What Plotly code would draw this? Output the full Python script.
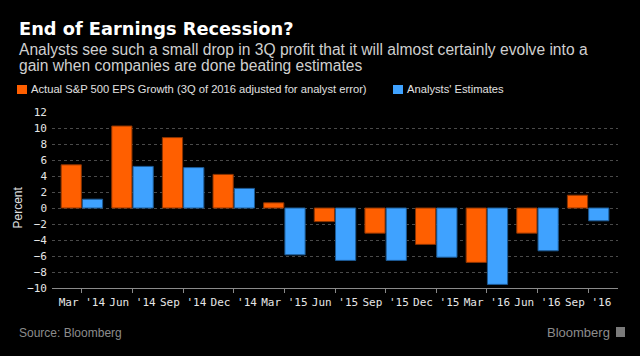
import plotly.graph_objects as go

categories = ["Mar '14", "Jun '14", "Sep '14", "Dec '14", "Mar '15", "Jun '15",
              "Sep '15", "Dec '15", "Mar '16", "Jun '16", "Sep '16"]
actual_growth = [5.4, 10.25, 8.8, 4.2, 0.65, -1.7, -3.15, -4.55, -6.8, -3.15, 1.6]
analyst_estimates = [1.1, 5.2, 5.05, 2.45, -5.85, -6.55, -6.55, -6.15, -9.55, -5.35, -1.6]
y_ticks = [-10, -8, -6, -4, -2, 0, 2, 4, 6, 8, 10, 12]

series_names = ["Actual S&P 500 EPS Growth (3Q of 2016 adjusted for analyst error)",
                "Analysts' Estimates"]
ORANGE = "#FF5F00"
BLUE = "#3FA2FF"

W, H = 640, 356
L, R, T, B = 52, 22, 112, 68
PW, PH = W - L - R, H - T - B


def px_x(x):
    return (x - L) / PW


def px_y(y):
    return (H - B - y) / PH


fig = go.Figure()
fig.add_trace(go.Bar(x=categories, y=actual_growth, name=series_names[0],
                     marker=dict(color=ORANGE, line=dict(color="#8a3300", width=1)),
                     showlegend=False))
fig.add_trace(go.Bar(x=categories, y=analyst_estimates, name=series_names[1],
                     marker=dict(color=BLUE, line=dict(color="#1d5a94", width=1)),
                     showlegend=False))

sans = "Liberation Sans, Arial, sans-serif"
mono = "DejaVu Sans Mono, monospace"

annotations = [
    dict(text="<b>End of Earnings Recession?</b>", x=px_x(17), y=px_y(28),
         font=dict(family="DejaVu Sans, sans-serif", size=17.8, color="#ffffff")),
    dict(text="Analysts see such a small drop in 3Q profit that it will almost certainly evolve into a",
         x=px_x(17), y=px_y(49), font=dict(family=sans, size=15.6, color="#cfcfcf")),
    dict(text="gain when companies are done beating estimates",
         x=px_x(17), y=px_y(65.5), font=dict(family=sans, size=15.6, color="#cfcfcf")),
    dict(text=series_names[0], x=px_x(29), y=px_y(89.5),
         font=dict(family=sans, size=11.2, color="#e0e0e0")),
    dict(text=series_names[1], x=px_x(405), y=px_y(89.5),
         font=dict(family=sans, size=11.2, color="#e0e0e0")),
    dict(text="Percent", x=px_x(17.5), y=px_y(208), textangle=-90, xanchor="center",
         font=dict(family=sans, size=12, color="#e0e0e0")),
    dict(text="Source: Bloomberg", x=px_x(17), y=px_y(333),
         font=dict(family=sans, size=12, color="#8c8c8c")),
    dict(text="Bloomberg", x=px_x(612), y=px_y(332), xanchor="right",
         font=dict(family=sans, size=13, color="#8c8c8c")),
]
for a in annotations:
    a.setdefault("xanchor", "left")
    a.update(xref="paper", yref="paper", yanchor="middle", showarrow=False)

shapes = [
    dict(type="rect", xref="paper", yref="paper", x0=px_x(17), x1=px_x(27),
         y0=px_y(94), y1=px_y(85), fillcolor=ORANGE, line=dict(width=0)),
    dict(type="rect", xref="paper", yref="paper", x0=px_x(393), x1=px_x(403),
         y0=px_y(94), y1=px_y(85), fillcolor=BLUE, line=dict(width=0)),
    dict(type="rect", xref="paper", yref="paper", x0=px_x(616), x1=px_x(625),
         y0=px_y(337), y1=px_y(327), fillcolor="#7a7a7a", line=dict(width=0)),
]

fig.update_layout(
    width=W, height=H,
    margin=dict(l=L, r=R, t=T, b=B, pad=0),
    paper_bgcolor="#000000", plot_bgcolor="#000000",
    barmode="group", bargap=0.16, bargroupgap=0.05,
    annotations=annotations, shapes=shapes,
    showlegend=False,
    xaxis=dict(type="category", range=[-0.59, 10.59], showgrid=False,
               showline=True, linecolor="#8a8a8a", linewidth=1,
               ticks="outside", ticklen=4, tickcolor="#8a8a8a",
               tickfont=dict(family=mono, size=11, color="#e6e6e6")),
    yaxis=dict(range=[-10, 12], tickvals=y_ticks, showgrid=True,
               gridcolor="#4a4a4a", griddash="dot", gridwidth=1,
               zeroline=False, showline=False, ticks="",
               ticklabelstandoff=4,
               tickfont=dict(family=mono, size=11, color="#e6e6e6")),
)

fig.write_html(
    "out.html",
    config={"displayModeBar": False},
    post_script="document.body.style.margin='0';document.body.style.padding='0';"
                "document.body.style.background='#000';document.body.style.overflow='hidden';",
)
